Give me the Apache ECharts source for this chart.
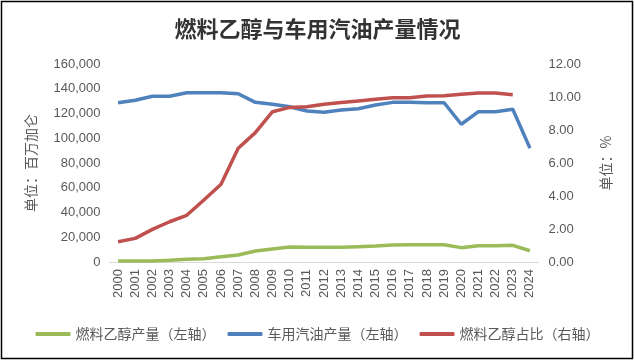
<!DOCTYPE html>
<html><head><meta charset="utf-8">
<script src="https://cdn.jsdelivr.net/npm/echarts@6/dist/echarts.min.js"></script>
<style>html,body{margin:0;padding:0;background:#fff}#c{width:635px;height:362px}</style>
</head><body><div id="c"></div>
<script>
var years = ['2000','2001','2002','2003','2004','2005','2006','2007','2008','2009','2010','2011','2012','2013','2014','2015','2016','2017','2018','2019','2020','2021','2022','2023','2024'];
var ethanol = [800,850,900,1350,2150,2700,4300,5650,8900,10500,12100,11900,11900,11900,12400,12900,13700,14000,14000,14000,11600,13200,13200,13500,9100];
var gasoline = [128700,130700,133900,133900,136800,136800,136800,136000,129000,127400,125500,122000,121000,122800,123900,126900,129000,129000,128700,128700,111300,121500,121500,123400,92000];
var share = [1.23,1.43,1.98,2.44,2.83,3.76,4.71,6.89,7.84,9.11,9.37,9.41,9.56,9.66,9.76,9.86,9.96,9.96,10.06,10.08,10.16,10.24,10.24,10.14,null];
var names = ['燃料乙醇产量（左轴）','车用汽油产量（左轴）','燃料乙醇占比（右轴）'];

var chart = echarts.init(document.getElementById('c'));
var font = 'Liberation Sans, Arial, sans-serif';
var cjk = '"Noto Sans CJK SC", sans-serif';
chart.setOption({
  animation: false,
  title: {text: '燃料乙醇与车用汽油产量情况', left: 'center', top: 13,
    textStyle: {fontFamily: cjk, fontSize: 22, fontWeight: 'bold', color: '#333'}},
  graphic: [{type: 'rect', shape: {x: 1.5, y: 1.5, width: 631, height: 357},
    style: {fill: 'none', stroke: '#000', lineWidth: 1.5}, silent: true}],
  legend: {bottom: 16, left: 'center', itemWidth: 35, itemHeight: 4, itemGap: 12, icon: 'roundRect',
    textStyle: {fontFamily: cjk, fontSize: 14, color: '#595959'},
    data: names},
  grid: {left: 109.5, right: 96.5, top: 64, bottom: 100},
  xAxis: {type: 'category', data: years, boundaryGap: true,
    axisLine: {lineStyle: {color: '#d9d9d9', width: 1}}, axisTick: {show: false},
    axisLabel: {rotate: 90, fontFamily: font, fontSize: 13, color: '#595959', margin: 7}},
  yAxis: [
    {type: 'value', min: 0, max: 160000, interval: 20000, name: '单位：百万加仑',
      nameLocation: 'middle', nameRotate: 90, nameGap: 72,
      nameTextStyle: {fontFamily: cjk, fontSize: 14, color: '#595959'},
      axisLine: {show: false}, axisTick: {show: false}, splitLine: {show: false},
      axisLabel: {fontFamily: font, fontSize: 13, color: '#595959', margin: 9,
        formatter: function (v) { return v.toLocaleString('en-US'); }}},
    {type: 'value', min: 0, max: 12, interval: 2, name: '单位：%',
      nameLocation: 'middle', nameRotate: 90, nameGap: 60,
      nameTextStyle: {fontFamily: cjk, fontSize: 14, color: '#595959'},
      axisLine: {show: false}, axisTick: {show: false}, splitLine: {show: false},
      axisLabel: {fontFamily: font, fontSize: 13, color: '#595959', margin: 10,
        formatter: function (v) { return v.toFixed(2); }}}
  ],
  series: [
    {name: names[0], type: 'line', data: ethanol, yAxisIndex: 0, showSymbol: false, symbol: 'none',
      lineStyle: {width: 3.5, color: '#9BBB59'}, itemStyle: {color: '#9BBB59'}},
    {name: names[1], type: 'line', data: gasoline, yAxisIndex: 0, showSymbol: false, symbol: 'none',
      lineStyle: {width: 3.5, color: '#4F81BD'}, itemStyle: {color: '#4F81BD'}},
    {name: names[2], type: 'line', data: share, yAxisIndex: 1, showSymbol: false, symbol: 'none',
      lineStyle: {width: 3.5, color: '#C0504D'}, itemStyle: {color: '#C0504D'}}
  ]
});
</script></body></html>
